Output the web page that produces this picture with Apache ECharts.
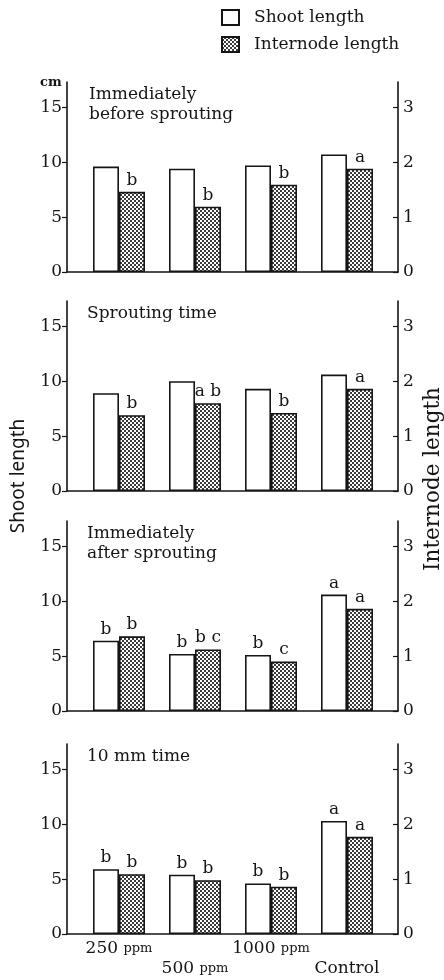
<!DOCTYPE html>
<html><head><meta charset="utf-8">
<script src="https://cdn.jsdelivr.net/npm/echarts@6/dist/echarts.min.js"></script>
<style>html,body{margin:0;padding:0;background:#fff}#c{width:444px;height:980px}</style>
</head><body><div id="c"></div>
<script>
// ---- data ----
const categories = ['250 ppm', '500 ppm', '1000 ppm', 'Control'];
const panelTitles = ['Immediately\nbefore sprouting', 'Sprouting time', 'Immediately\nafter sprouting', '10 mm time'];
const shootBefore = [9.6, 9.4, 9.7, 10.7];
const internodeBefore = [1.46, 1.19, 1.59, 1.88];
const shootSprouting = [8.9, 10.0, 9.3, 10.6];
const internodeSprouting = [1.38, 1.6, 1.42, 1.86];
const shootAfter = [6.4, 5.2, 5.1, 10.6];
const internodeAfter = [1.36, 1.12, 0.9, 1.86];
const shoot10mm = [5.9, 5.4, 4.6, 10.3];
const internode10mm = [1.09, 0.98, 0.86, 1.77];
const shootLettersBefore = ['', '', '', ''];
const internodeLettersBefore = ['b', 'b', 'b', 'a'];
const shootLettersSprouting = ['', '', '', ''];
const internodeLettersSprouting = ['b', 'a b', 'b', 'a'];
const shootLettersAfter = ['b', 'b', 'b', 'a'];
const internodeLettersAfter = ['b', 'b c', 'c', 'a'];
const shootLetters10mm = ['b', 'b', 'b', 'a'];
const internodeLetters10mm = ['b', 'b', 'b', 'a'];
const leftTicks = [0, 5, 10, 15];
const rightTicks = [0, 1, 2, 3];
const leftMax = 17.3;
const rightMax = 3.46;

const shootData = [shootBefore, shootSprouting, shootAfter, shoot10mm];
const internodeData = [internodeBefore, internodeSprouting, internodeAfter, internode10mm];
const shootLetters = [shootLettersBefore, shootLettersSprouting, shootLettersAfter, shootLetters10mm];
const internodeLetters = [internodeLettersBefore, internodeLettersSprouting, internodeLettersAfter, internodeLetters10mm];

// ---- style ----
const SERIF = 'DejaVu Serif';
const INK = '#151515';
const tops = [82, 301, 521, 744];
const H = 190;

const tile = document.createElement('canvas');
tile.width = 4; tile.height = 4;
const tc = tile.getContext('2d');
tc.fillStyle = '#3a3a3a'; tc.fillRect(0, 0, 4, 4);
tc.fillStyle = '#ffffff';
tc.fillRect(0, 0, 2, 2); tc.fillRect(2, 2, 2, 2);
const hatch = { image: tile, repeat: 'repeat' };

const grid = [], xAxis = [], yAxis = [], series = [], title = [];
for (let i = 0; i < 4; i++) {
  grid.push({ left: 67, right: 46, top: tops[i], height: H });
  grid.push({ left: 81, right: 59, top: tops[i], height: H });
  xAxis.push({
    type: 'value', gridIndex: 2 * i, min: 0, max: 1,
    axisLine: { show: true, lineStyle: { color: INK, width: 1.6 } },
    axisTick: { show: false }, axisLabel: { show: false }, splitLine: { show: false }
  });
  xAxis.push({
    type: 'category', gridIndex: 2 * i + 1, data: categories,
    axisLine: { show: false }, axisTick: { show: false }, splitLine: { show: false },
    axisLabel: {
      show: i === 3, margin: 5, interval: 0, color: INK, fontFamily: SERIF, lineHeight: 20,
      formatter: function (v, idx) {
        const parts = v.split(' ');
        const body = parts.length > 1 ? '{n|' + parts[0] + ' }{p|' + parts[1] + '}' : '{n|' + parts[0] + '}';
        return idx % 2 ? '\n' + body : body;
      },
      rich: {
        n: { fontFamily: SERIF, fontSize: 17, color: INK, lineHeight: 20 },
        p: { fontFamily: SERIF, fontSize: 13, color: INK, lineHeight: 20 }
      }
    }
  });
  yAxis.push({
    type: 'value', gridIndex: 2 * i, position: 'left', min: 0, max: leftMax,
    axisLine: { show: true, lineStyle: { color: INK, width: 1.6 } },
    axisTick: { show: true, length: 5, customValues: leftTicks, lineStyle: { color: INK, width: 1.2 } },
    axisLabel: { customValues: leftTicks, margin: 5, color: INK, fontFamily: SERIF, fontSize: 17 },
    splitLine: { show: false }
  });
  yAxis.push({
    type: 'value', gridIndex: 2 * i, position: 'right', min: 0, max: rightMax,
    axisLine: { show: true, lineStyle: { color: INK, width: 1.6 } },
    axisTick: { show: true, inside: true, length: 5, customValues: rightTicks, lineStyle: { color: INK, width: 1.2 } },
    axisLabel: { customValues: rightTicks, margin: 5, color: INK, fontFamily: SERIF, fontSize: 17 },
    splitLine: { show: false }
  });
  yAxis.push({ type: 'value', gridIndex: 2 * i + 1, min: 0, max: leftMax, show: false });
  yAxis.push({ type: 'value', gridIndex: 2 * i + 1, min: 0, max: rightMax, show: false });

  const sl = shootLetters[i], il = internodeLetters[i];
  series.push({
    type: 'bar', name: 'Shoot length', xAxisIndex: 2 * i + 1, yAxisIndex: 4 * i + 2,
    data: shootData[i], barWidth: 26, barGap: '0%',
    itemStyle: { color: '#ffffff', borderColor: INK, borderWidth: 1.6 },
    label: { show: true, position: 'top', distance: 3, fontFamily: SERIF, fontSize: 17, color: INK,
      formatter: p => sl[p.dataIndex] },
    emphasis: { disabled: true }, animation: false
  });
  series.push({
    type: 'bar', name: 'Internode length', xAxisIndex: 2 * i + 1, yAxisIndex: 4 * i + 3,
    data: internodeData[i], barWidth: 26, barGap: '0%',
    itemStyle: { color: hatch, borderColor: INK, borderWidth: 1.6 },
    label: { show: true, position: 'top', distance: 3, fontFamily: SERIF, fontSize: 17, color: INK,
      formatter: p => il[p.dataIndex] },
    emphasis: { disabled: true }, animation: false
  });
  title.push({
    text: panelTitles[i], left: i === 0 ? 89 : 87, top: tops[i] + 3, padding: 0,
    textStyle: { fontFamily: SERIF, fontSize: 17, fontWeight: 'normal', color: INK, lineHeight: 20 }
  });
}

const chart = echarts.init(document.getElementById('c'), null, { renderer: 'canvas' });
chart.setOption({
  animation: false,
  backgroundColor: '#ffffff',
  title: title,
  legend: {
    data: ['Shoot length', 'Internode length'], orient: 'vertical', left: 221, top: 9, padding: 0,
    itemWidth: 17, itemHeight: 15, itemGap: 10, icon: 'rect', selectedMode: false,
    textStyle: { fontFamily: SERIF, fontSize: 17, color: INK, padding: [0, 0, 0, 10] }
  },
  grid: grid, xAxis: xAxis, yAxis: yAxis, series: series,
  graphic: [
    { type: 'text', x: 19, y: 476, rotation: Math.PI / 2,
      style: { text: 'Shoot length', font: '19px "Noto Sans"', fill: INK, align: 'center', verticalAlign: 'middle' } },
    { type: 'text', x: 433, y: 479, rotation: Math.PI / 2,
      style: { text: 'Internode length', font: '21.5px "DejaVu Serif"', fill: INK, align: 'center', verticalAlign: 'middle' } },
    { type: 'text', x: 40, y: 76,
      style: { text: 'cm', font: 'bold 13px "DejaVu Serif"', fill: INK, align: 'left', verticalAlign: 'top' } }
  ]
});
</script></body></html>
